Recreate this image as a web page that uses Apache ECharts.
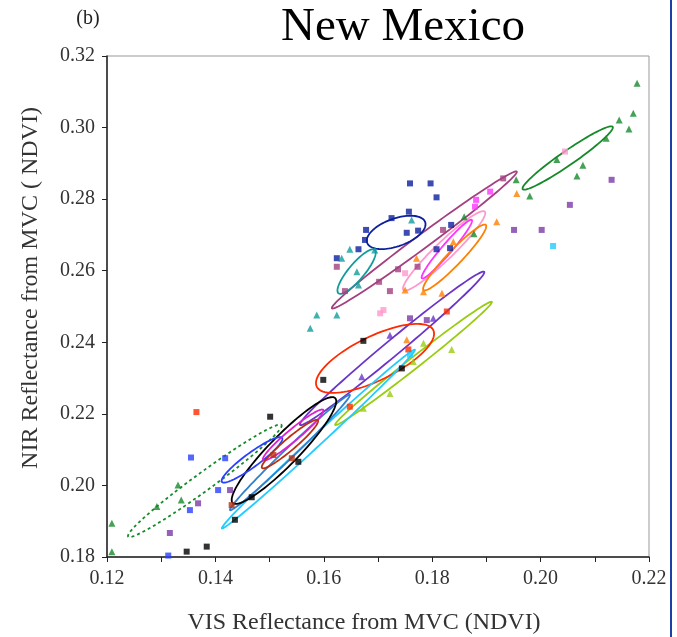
<!DOCTYPE html>
<html><head><meta charset="utf-8">
<script src="https://cdn.jsdelivr.net/npm/echarts@6/dist/echarts.min.js"></script>
<style>html,body{margin:0;padding:0;background:#fff}#c{width:677px;height:637px}</style>
</head><body><div id="c"></div>
<script>
// ---- tick labels ----
const xTicks = [0.12, 0.14, 0.16, 0.18, 0.20, 0.22];
const yTicks = [0.18, 0.20, 0.22, 0.24, 0.26, 0.28, 0.30, 0.32];

// ---- ellipses: [x1, y1, x2, y2, minor/major ratio] (major-axis ends in data units) ----
const ellGreenUpper   = [0.1967, 0.2828, 0.2133, 0.3002, 0.13];
const ellMauve        = [0.1615, 0.2495, 0.1956, 0.2877, 0.06];
const ellNavy         = [0.1680, 0.2678, 0.1787, 0.2736, 0.45];
const ellTeal         = [0.1627, 0.2537, 0.1694, 0.2658, 0.28];
const ellPink         = [0.1747, 0.2546, 0.1897, 0.2765, 0.16];
const ellMagenta      = [0.1781, 0.2579, 0.1873, 0.2742, 0.13];
const ellOrange       = [0.1784, 0.2546, 0.1899, 0.2728, 0.16];
const ellViolet       = [0.1556, 0.2169, 0.1896, 0.2597, 0.065];
const ellLime         = [0.1621, 0.2169, 0.1910, 0.2513, 0.055];
const ellRed          = [0.1587, 0.2276, 0.1802, 0.2434, 0.34];
const ellCyan         = [0.1412, 0.1880, 0.1768, 0.2379, 0.04];
const ellBlack        = [0.1432, 0.1951, 0.1621, 0.2244, 0.2];
const ellBlue         = [0.1412, 0.2010, 0.1523, 0.2133, 0.19];
const ellGreenLower   = [0.1239, 0.1857, 0.1522, 0.2169, 0.095];
const ellMagenta2     = [0.1488, 0.2071, 0.1599, 0.2211, 0.15];
const ellBrown        = [0.1486, 0.2049, 0.1589, 0.2182, 0.16];
const ellSteel        = [0.1427, 0.1931, 0.1648, 0.2253, 0.06];

// ---- scatter points ----
const ptsGreen = [[0.2178,0.3124],[0.2171,0.3040],[0.2163,0.2996],[0.2145,0.3021],[0.2121,0.2970],[0.2078,0.2895],[0.2067,0.2865],[0.2030,0.2911],[0.1980,0.2809],[0.1955,0.2854],[0.1859,0.2751],[0.1877,0.2703],[0.1209,0.1894],[0.1209,0.1815],[0.1331,0.2001],[0.1337,0.1959],[0.1292,0.1941]];
const ptsNavy = [[0.1759,0.2844],[0.1797,0.2844],[0.1808,0.2805],[0.1757,0.2765],[0.1725,0.2747],[0.1678,0.2714],[0.1676,0.2686],[0.1664,0.2660],[0.1753,0.2706],[0.1774,0.2712],[0.1624,0.2635],[0.1835,0.2728],[0.1808,0.2660],[0.1833,0.2663]];
const ptsTeal = [[0.1648,0.2660],[0.1633,0.2635],[0.1661,0.2597],[0.1664,0.2560],[0.1694,0.2658],[0.1762,0.2742],[0.1587,0.2476],[0.1575,0.2439],[0.1624,0.2476]];
const ptsMauve = [[0.1931,0.2858],[0.1820,0.2714],[0.1773,0.2611],[0.1737,0.2604],[0.1702,0.2569],[0.1639,0.2543],[0.1722,0.2543],[0.1624,0.2611]];
const ptsOrange = [[0.1919,0.2737],[0.1750,0.2546],[0.1784,0.2541],[0.1818,0.2537],[0.1771,0.2635],[0.1839,0.2681],[0.1956,0.2816],[0.1753,0.2407]];
const ptsPurple = [[0.2131,0.2854],[0.2054,0.2784],[0.1951,0.2714],[0.2002,0.2714],[0.1790,0.2462],[0.1759,0.2467],[0.1368,0.1950],[0.1427,0.1987],[0.1316,0.1867]];
const ptsViolet = [[0.1802,0.2467],[0.1722,0.2420],[0.1670,0.2304]];
const ptsPink = [[0.1750,0.2593],[0.1710,0.2490],[0.2045,0.2933],[0.1704,0.2481]];
const ptsMagenta = [[0.1907,0.2821],[0.1879,0.2779],[0.1881,0.2798]];
const ptsBlack = [[0.1673,0.2404],[0.1599,0.2295],[0.1744,0.2327],[0.1501,0.2192],[0.1553,0.2066],[0.1436,0.1904],[0.1467,0.1967],[0.1384,0.1829],[0.1347,0.1815]];
const ptsRed = [[0.1827,0.2486],[0.1756,0.2380],[0.1365,0.2205],[0.1648,0.2220]];
const ptsBlue = [[0.1355,0.2078],[0.1418,0.2076],[0.1405,0.1987],[0.1353,0.1931],[0.1313,0.1804]];
const ptsBrown = [[0.1430,0.1945],[0.1507,0.2085],[0.1541,0.2076]];
const ptsCyan = [[0.2023,0.2669],[0.1759,0.2365]];
const ptsLime = [[0.1836,0.2380],[0.1784,0.2397],[0.1765,0.2346],[0.1722,0.2257],[0.1673,0.2216]];

const groups = [
  {c:'#16892a', e:[ellGreenUpper], p:ptsGreen, s:'triangle'},
  {c:'#16892a', e:[ellGreenLower], p:[], s:'rect', dash:true},
  {c:'#a3407f', e:[ellMauve], p:ptsMauve, s:'rect'},
  {c:'#0c1f9c', e:[ellNavy], p:ptsNavy, s:'rect'},
  {c:'#119c9c', e:[ellTeal], p:ptsTeal, s:'triangle'},
  {c:'#ff99cc', e:[ellPink], p:ptsPink, s:'rect'},
  {c:'#ff33ff', e:[ellMagenta], p:ptsMagenta, s:'rect'},
  {c:'#ff8000', e:[ellOrange], p:ptsOrange, s:'triangle'},
  {c:'#6a35c8', e:[ellViolet], p:ptsViolet, s:'triangle'},
  {c:'#7a3aa8', e:[], p:ptsPurple, s:'rect'},
  {c:'#99cc11', e:[ellLime], p:ptsLime, s:'triangle'},
  {c:'#ff2a00', e:[ellRed], p:ptsRed, s:'rect'},
  {c:'#22ccff', e:[ellCyan], p:ptsCyan, s:'rect'},
  {c:'#3080d0', e:[ellSteel], p:[], s:'rect'},
  {c:'#000000', e:[ellBlack], p:ptsBlack, s:'rect'},
  {c:'#2a40ff', e:[ellBlue], p:ptsBlue, s:'rect'},
  {c:'#e020d0', e:[ellMagenta2], p:[], s:'rect'},
  {c:'#b83010', e:[ellBrown], p:ptsBrown, s:'rect'}
];

function ellipseRender(params, api) {
  const p1 = api.coord([api.value(0), api.value(1)]);
  const p2 = api.coord([api.value(2), api.value(3)]);
  const ratio = api.value(4);
  const cx = (p1[0] + p2[0]) / 2, cy = (p1[1] + p2[1]) / 2;
  const a = Math.hypot(p2[0] - p1[0], p2[1] - p1[1]) / 2;
  const b = a * ratio;
  const ang = Math.atan2(p2[1] - p1[1], p2[0] - p1[0]);
  const ca = Math.cos(ang), sa = Math.sin(ang);
  const pts = [];
  for (let i = 0; i < 96; i++) {
    const t = i / 96 * Math.PI * 2;
    const u = a * Math.cos(t), v = b * Math.sin(t);
    pts.push([cx + u * ca - v * sa, cy + u * sa + v * ca]);
  }
  return {type: 'polygon', shape: {points: pts},
    style: {fill: 'none', stroke: api.visual('color'), lineWidth: 1.8,
      lineDash: params.seriesName === 'dash' ? [3, 3] : null}};
}

const series = [];
groups.forEach(g => {
  if (g.e.length) series.push({type: 'custom', name: g.dash ? 'dash' : 'ell', renderItem: ellipseRender,
    data: g.e, itemStyle: {color: g.c}, silent: true, clip: true,
    encode: {x: [0, 2], y: [1, 3]}});
  if (g.p.length) series.push({type: 'scatter', data: g.p, symbol: g.s,
    symbolSize: g.s === 'triangle' ? 7 : 6, itemStyle: {color: g.c}, silent: true});
});

const serif = '"Liberation Serif", "Times New Roman", "DejaVu Serif", serif';
const chart = echarts.init(document.getElementById('c'));
chart.setOption({
  animation: false,
  backgroundColor: '#fff',
  grid: {left: 107, right: 28, top: 56, bottom: 80, show: true, borderColor: '#999', borderWidth: 1},
  xAxis: {type: 'value', min: xTicks[0], max: xTicks[xTicks.length - 1], interval: 0.01,
    axisLine: {lineStyle: {color: '#222', width: 1.5}}, axisTick: {length: 5, lineStyle: {color: '#222'}},
    splitLine: {show: false},
    axisLabel: {color: '#333', fontFamily: serif, fontSize: 20, margin: 12,
      formatter: v => (Math.round(v * 100) % 2 === 0 ? v.toFixed(2) : '')}},
  yAxis: {type: 'value', min: yTicks[0], max: yTicks[yTicks.length - 1], interval: 0.02,
    axisLine: {show: true, lineStyle: {color: '#222', width: 1.5}}, axisTick: {show: true, length: 5, lineStyle: {color: '#222'}},
    splitLine: {show: false},
    axisLabel: {color: '#333', fontFamily: serif, fontSize: 20, margin: 12, formatter: v => v.toFixed(2)}},
  graphic: [
    {type: 'text', x: 403, y: 28, style: {text: 'New Mexico', font: '47px ' + serif, fill: '#000', align: 'center', verticalAlign: 'middle'}},
    {type: 'text', x: 88, y: 19, style: {text: '(b)', font: '20px ' + serif, fill: '#222', align: 'center', verticalAlign: 'middle'}},
    {type: 'text', x: 364, y: 623, style: {text: 'VIS Reflectance from MVC (NDVI)', font: '24px ' + serif, fill: '#333', align: 'center', verticalAlign: 'middle'}},
    {type: 'text', x: 31, y: 288, rotation: Math.PI / 2, style: {text: 'NIR Reflectance from MVC ( NDVI)', font: '24px ' + serif, fill: '#333', align: 'center', verticalAlign: 'middle'}},
    {type: 'line', shape: {x1: 671, y1: 0, x2: 671, y2: 637}, style: {stroke: '#1f3ea8', lineWidth: 2}}
  ],
  series: series
});
</script></body></html>
